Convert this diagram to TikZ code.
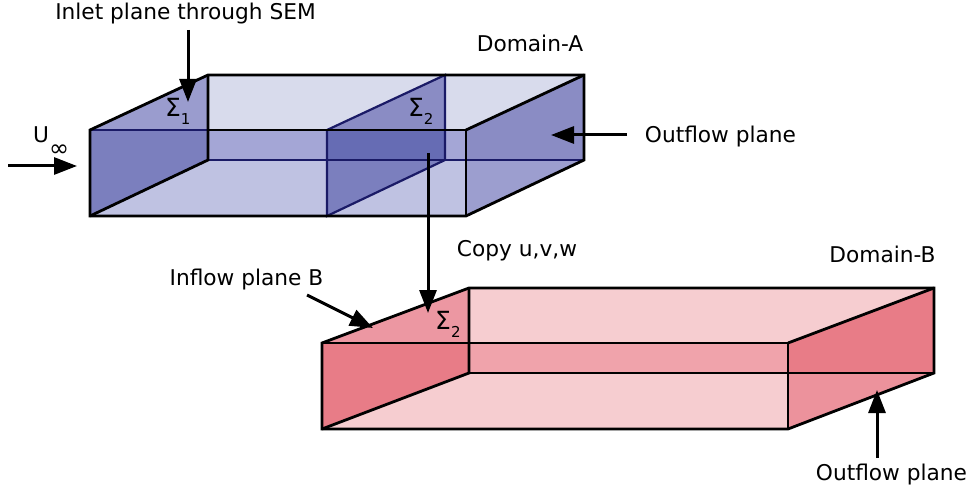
\documentclass[tikz,border=0pt]{standalone}
\usepackage{fontspec}
\setmainfont{DejaVu Sans}
\usetikzlibrary{arrows.meta}
\definecolor{bluewall}{HTML}{D8DBEC}
\definecolor{blueband}{HTML}{A4A6D6}
\definecolor{bluefloor}{HTML}{BFC2E2}
\definecolor{bluetop}{HTML}{9A9CCE}
\definecolor{bluelow}{HTML}{7B7FBE}
\definecolor{bluemid}{HTML}{8A8CC4}
\definecolor{bluedark}{HTML}{666CB4}
\definecolor{blueright}{HTML}{9C9ECF}
\definecolor{navyline}{HTML}{1A1A66}
\definecolor{redwall}{HTML}{F6CDD0}
\definecolor{redband}{HTML}{F0A3AB}
\definecolor{redtop}{HTML}{EC97A2}
\definecolor{redlow}{HTML}{E87C87}
\definecolor{redright}{HTML}{EC929C}
\newcommand{\lowered}[3]{\raisebox{-#1}{\fontsize{#2}{#2}\selectfont #3}}
\tikzset{
  label/.style={inner sep=0pt, font=\fontsize{21.7}{25}\selectfont},
  sigma/.style={inner sep=0pt, anchor=base west, font=\fontsize{25}{25}\selectfont},
  edge/.style={line width=2.8pt, line join=miter},
  inner/.style={line width=2.2pt, navyline},
  pointer/.style={line width=3pt, -{Triangle[length=23pt,width=17pt]}}
}
\begin{document}
\begin{tikzpicture}[x=1pt, y=-1pt]
\useasboundingbox (0, 0) rectangle (970, 492);

% Domain-A
\fill[bluewall] (208, 75) -- (584, 75) -- (466, 130) -- (208, 130) -- cycle;
\fill[blueband] (208, 130) rectangle (466, 160);
\fill[bluefloor] (208, 160) -- (466, 160) -- (466, 216) -- (90, 216) -- cycle;
\fill[bluetop] (90, 130) -- (208, 75) -- (208, 130) -- cycle;
\fill[bluelow] (90, 130) -- (208, 130) -- (208, 160) -- (90, 216) -- cycle;
\fill[bluemid] (327, 130) -- (445, 75) -- (445, 130) -- cycle;
\fill[bluedark] (327, 130) rectangle (445, 160);
\fill[bluelow] (327, 160) -- (445, 160) -- (327, 216) -- cycle;
\fill[bluemid] (466, 130) -- (584, 75) -- (584, 160) -- (466, 160) -- cycle;
\fill[blueright] (466, 160) -- (584, 160) -- (466, 216) -- cycle;

\draw[inner] (90, 130) -- (466, 130);
\draw[inner] (208, 160) -- (584, 160);
\draw[inner] (327, 130) -- (327, 216) -- (445, 160) -- (445, 75) -- (327, 130);
\draw[edge] (208, 75) -- (208, 160) -- (90, 216);
\draw[edge] (90, 216) -- (90, 130) -- (208, 75) -- (584, 75) -- (584, 160) -- (466, 216) -- cycle;
\draw[edge] (466, 130) -- (466, 216);
\draw[edge] (466, 130) -- (584, 75);
\draw[edge] (208, 130) -- (466, 130);

% Domain-B
\fill[redwall] (469, 288) -- (934, 288) -- (788, 343) -- (469, 343) -- cycle;
\fill[redband] (469, 343) rectangle (788, 373);
\fill[redwall] (469, 373) -- (788, 373) -- (788, 429) -- (322, 429) -- cycle;
\fill[redtop] (322, 343) -- (469, 288) -- (469, 343) -- cycle;
\fill[redlow] (322, 343) -- (469, 343) -- (469, 373) -- (322, 429) -- cycle;
\fill[redlow] (788, 343) -- (934, 288) -- (934, 373) -- (788, 373) -- cycle;
\fill[redright] (788, 373) -- (934, 373) -- (788, 429) -- cycle;

\draw[edge] (322, 343) -- (788, 343);
\draw[edge] (469, 373) -- (934, 373);
\draw[edge] (469, 288) -- (469, 373) -- (322, 429);
\draw[edge] (322, 429) -- (322, 343) -- (469, 288) -- (934, 288) -- (934, 373) -- (788, 429) -- cycle;
\draw[edge] (788, 343) -- (788, 429);
\draw[edge] (788, 343) -- (934, 288);

% labels
\node[label] (inlet) at (185.5, 14) {Inlet plane through SEM};
\node[label] (domainA) at (530, 43.5) {Domain-A};
\node[label] (outflowA) at (720.5, 136.5) {Outflow plane};
\node[label] (copy) at (517, 250.5) {Copy u,v,w};
\node[label] (inflowB) at (246.5, 279.5) {Inflow plane B};
\node[label] (domainB) at (882.5, 254) {Domain-B};
\node[label] (outflowB) at (891.5, 474.5) {Outflow plane};
\node[sigma, font=\fontsize{21.7}{25}\selectfont] (uinf) at (33, 143) {U\lowered{14pt}{24}{∞}};
\node[sigma] (sigmaOne) at (165, 117) {Σ\lowered{8pt}{15}{1}};
\node[sigma] (sigmaTwoA) at (408, 117) {Σ\lowered{8pt}{15}{2}};
\node[sigma] (sigmaTwoB) at (435, 329) {Σ\lowered{8pt}{15}{2}};

% arrows
\coordinate (inletTail) at (188, 30);
\coordinate (inletTip) at (188, 102);
\coordinate (uTail) at (8, 166);
\coordinate (uTip) at (77, 166);
\coordinate (outATail) at (627, 135);
\coordinate (outATip) at (551, 135);
\coordinate (copyTail) at (428, 153);
\coordinate (copyTip) at (428, 313);
\coordinate (inflowTail) at (307, 295);
\coordinate (inflowTip) at (373, 328);
\coordinate (outBTail) at (877, 458);
\coordinate (outBTip) at (877, 390);
\draw[pointer] (inletTail) -- (inletTip);
\draw[pointer] (uTail) -- (uTip);
\draw[pointer] (outATail) -- (outATip);
\draw[pointer] (copyTail) -- (copyTip);
\draw[pointer] (inflowTail) -- (inflowTip);
\draw[pointer] (outBTail) -- (outBTip);

\end{tikzpicture}
\end{document}
